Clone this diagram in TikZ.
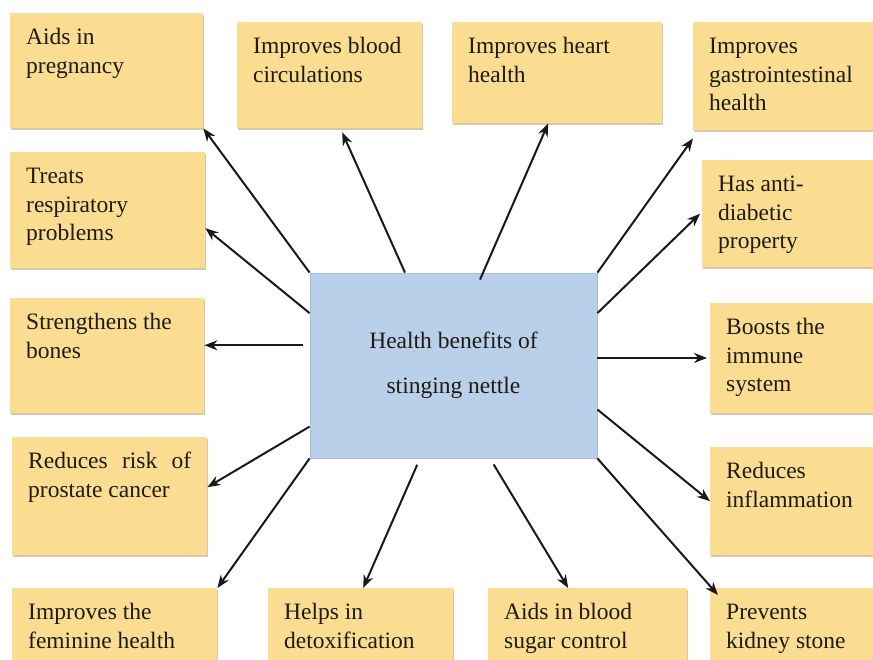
\documentclass[tikz,border=0pt]{standalone}
\usepackage{fontspec}
\setmainfont{Liberation Serif}
\usepackage{xcolor}
\usepackage{tikz}
\usetikzlibrary{arrows.meta,shadows}

\definecolor{boxyellow}{RGB}{250,221,145}
\definecolor{boxshade}{RGB}{185,165,110}
\definecolor{hubblue}{RGB}{186,208,234}
\definecolor{hubedge}{RGB}{165,190,222}
\definecolor{inkdark}{RGB}{30,27,20}

\tikzset{
  benefit/.style={fill=boxyellow, anchor=north west, inner xsep=16pt, inner ysep=11.5pt,
    text=inkdark, font=\fontsize{23.5}{28.5}\selectfont,
    drop shadow={shadow xshift=1.2pt, shadow yshift=-2pt, fill=boxshade, opacity=.6}},
  hub/.style={fill=hubblue, draw=hubedge, line width=.8pt, minimum width=287pt, minimum height=185pt,
    align=center, text=inkdark, font=\fontsize{23.5}{45}\selectfont},
  arr/.style={-{Stealth[length=13pt,width=10pt]}, line width=2pt, draw=black!90}
}
% name, x, y, width, height, text
\newcommand{\benefit}[6]{\node[benefit] (#1) at (#2,#3)
  {\parbox[t][\dimexpr#5pt-23pt\relax][t]{\dimexpr#4pt-32pt\relax}{\raggedright\strut #6}}}

\begin{document}
\begin{tikzpicture}[x=1pt,y=-1pt]
    \useasboundingbox (0,0) rectangle (873,659);
    \clip (0,0) rectangle (873,659);

    \node[hub] (ctr) at (453.5,365.5) {Health benefits of\\stinging nettle};

    \benefit{preg}{10}{13}{193}{115}{Aids in\\pregnancy};
    \benefit{resp}{10}{152}{195}{116}{Treats\\respiratory\\problems};
    \benefit{bone}{10}{298}{194}{115}{Strengthens the\\bones};
    \benefit{pros}{12}{437}{195}{118}{Reduces\hfill risk\hfill of\\prostate cancer};
    \benefit{fem}{12}{588}{205}{90}{Improves the\\feminine health};
    \benefit{detox}{268}{588}{185}{90}{Helps in\\detoxification};
    \benefit{sugar}{488}{588}{199}{90}{Aids in blood\\sugar control};
    \benefit{kid}{710}{588}{175}{90}{Prevents\\kidney stone};
    \benefit{infl}{710}{447}{175}{108}{Reduces\\inflammation};
    \benefit{imm}{710}{303}{175}{110}{Boosts the\\immune\\system};
    \benefit{diab}{702}{160}{183}{107}{Has anti-\\diabetic\\property};
    \benefit{gas}{693}{22}{192}{108}{Improves\\gastrointestinal\\health};
    \benefit{heart}{452}{22}{210}{101}{Improves heart\\health};
    \benefit{circ}{237}{22}{185}{106}{Improves blood\\circulations};

    \draw[arr] (ctr.north west) -- (preg.south east);
    \draw[arr] (ctr.160) -- ([yshift=-18pt]resp.east);
    \draw[arr, shorten <=7pt] (ctr.172) -- (ctr.172 -| bone.east);
    \draw[arr] (ctr.203) -- ([yshift=9pt]pros.east);
    \draw[arr] (ctr.south west) -- (fem.north east);
    \draw[arr, shorten <=7pt] ([xshift=-33.5pt]ctr.south) -- ([xshift=2.5pt]detox.north);
    \draw[arr, shorten <=7pt] ([xshift=36.5pt]ctr.south) -- ([xshift=-19.5pt]sugar.north);
    \draw[arr] (ctr.south east) -- ([shift={(8,7)}]kid.north west);
    \draw[arr] (ctr.343) -- (infl.west);
    \draw[arr, shorten >=3pt] (ctr.3) -- (ctr.3 -| imm.west);
    \draw[arr] (ctr.20) -- ([xshift=-2pt]diab.west);
    \draw[arr] (ctr.north east) -- ([yshift=-8pt]gas.south west);
    \draw[arr] ([shift={(26.5,7)}]ctr.north) -- ([xshift=-9pt]heart.south);
    \draw[arr] ([xshift=-48.5pt]ctr.north) -- ([shift={(12.5,4)}]circ.south);
\end{tikzpicture}
\end{document}
